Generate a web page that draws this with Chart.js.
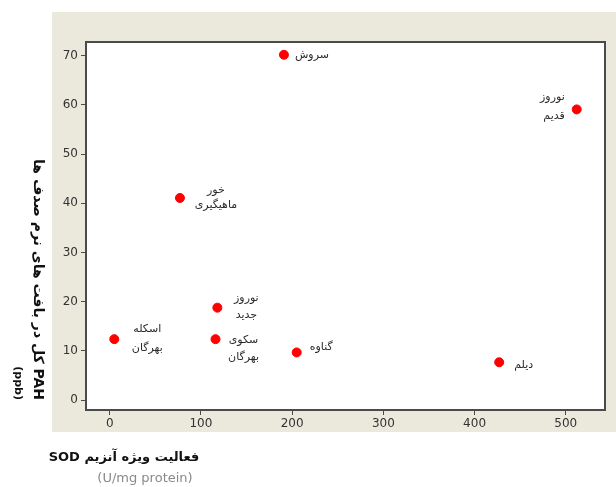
<!DOCTYPE html>
<html>
<head>
<meta charset="utf-8">
<script src="https://cdn.jsdelivr.net/npm/chart.js@4"></script>
<style>
  html, body { margin: 0; padding: 0; background: #ffffff; }
  #wrap { width: 616px; height: 487px; }
</style>
</head>
<body>
<div id="wrap"><canvas id="sodChart" width="616" height="487"></canvas></div>
<script>
// Data
const siteNames = ['سروش', 'نوروز\nقدیم', 'خور\nماهیگیری', 'نوروز\nجدید', 'اسکله\nبهرگان', 'سکوی\nبهرگان', 'گناوه', 'دیلم'];
const sodValues = [191, 512, 77, 118, 5, 116, 205, 427];
const pahValues = [70.2, 59.1, 41.1, 18.8, 12.4, 12.4, 9.7, 7.7];
const xTickValues = [0, 100, 200, 300, 400, 500];
const yTickValues = [0, 10, 20, 30, 40, 50, 60, 70];

const xTitle = 'فعالیت ویژه آنزیم SOD';
const xUnit = '(U/mg protein)';
const yTitle = 'PAH کل در بافت های نرم صدف ها';
const yUnit = '(ppb)';

// Where each site label sits relative to its point (px): dx, align, line offsets
const labelLayout = [
    { dx: 11, align: 'left', lines: [0] },
    { dx: -12, align: 'right', lines: [-12, 7] },
    { dx: 36, align: 'center', lines: [-8, 7] },
    { dx: 29, align: 'center', lines: [-10, 7] },
    { dx: 33, align: 'center', lines: [-10, 9] },
    { dx: 28, align: 'center', lines: [1, 18] },
    { dx: 13, align: 'left', lines: [-5] },
    { dx: 15, align: 'left', lines: [3] }
];

const scatterPoints = sodValues.map((x, i) => ({ x: x, y: pahValues[i] }));

// Beige panel, frame, site labels and the two axis titles
const decorPlugin = {
    id: 'decor',
    beforeDraw(chart) {
        const ctx = chart.ctx;
        ctx.save();
        ctx.fillStyle = '#ebe8dc';
        ctx.fillRect(52, 12, 564, 420);
        const a = chart.chartArea;
        ctx.fillStyle = '#ffffff';
        ctx.fillRect(a.left, a.top, a.right - a.left, a.bottom - a.top);
        ctx.restore();
    },
    afterDraw(chart) {
        const ctx = chart.ctx;
        const a = chart.chartArea;
        ctx.save();
        ctx.strokeStyle = '#4a4a4a';
        ctx.lineWidth = 2;
        ctx.strokeRect(a.left, a.top, a.right - a.left, a.bottom - a.top);

        // site labels
        const meta = chart.getDatasetMeta(0);
        ctx.fillStyle = '#2a2a2a';
        ctx.font = '11px "DejaVu Sans"';
        ctx.textBaseline = 'middle';
        ctx.direction = 'rtl';
        meta.data.forEach((pt, i) => {
            const lay = labelLayout[i];
            const parts = siteNames[i].split('\n');
            ctx.textAlign = lay.align;
            parts.forEach((txt, j) => {
                ctx.fillText(txt, pt.x + lay.dx, pt.y + lay.lines[j]);
            });
        });

        // x axis title
        ctx.textAlign = 'center';
        ctx.fillStyle = '#111111';
        ctx.font = 'bold 13px "DejaVu Sans"';
        ctx.fillText(xTitle, 124, 458);
        ctx.direction = 'ltr';
        ctx.fillStyle = '#8a8a8a';
        ctx.font = '13px "DejaVu Sans"';
        ctx.fillText(xUnit, 145, 479);

        // y axis title, turned clockwise
        ctx.translate(38, 400);
        ctx.rotate(Math.PI / 2);
        ctx.textAlign = 'right';
        ctx.direction = 'rtl';
        ctx.fillStyle = '#111111';
        ctx.font = 'bold 14px "DejaVu Sans"';
        ctx.fillText(yTitle, 0, 0);
        ctx.direction = 'ltr';
        ctx.font = 'bold 11px "DejaVu Sans"';
        ctx.fillText(yUnit, 0, 20);
        ctx.restore();
    }
};

const ctx = document.getElementById('sodChart').getContext('2d');
new Chart(ctx, {
    type: 'scatter',
    data: {
        datasets: [{
            data: scatterPoints,
            backgroundColor: '#ff0000',
            borderColor: '#ff0000',
            pointRadius: 4.5,
            pointHoverRadius: 4.5
        }]
    },
    options: {
        responsive: false,
        animation: false,
        layout: { padding: { left: 52, top: 42, right: 11, bottom: 55 } },
        plugins: {
            legend: { display: false },
            tooltip: { enabled: false }
        },
        scales: {
            x: {
                type: 'linear',
                min: -26,
                max: 543,
                afterBuildTicks: axis => { axis.ticks = xTickValues.map(v => ({ value: v })); },
                afterFit: axis => { axis.height = 22; },
                grid: { drawOnChartArea: false, drawTicks: true, tickLength: 5, color: '#4a4a4a' },
                border: { display: true, color: '#4a4a4a', width: 2 },
                ticks: { color: '#333333', font: { family: 'DejaVu Sans', size: 12 }, padding: 2, maxRotation: 0 }
            },
            y: {
                type: 'linear',
                min: -2,
                max: 72.8,
                afterBuildTicks: axis => { axis.ticks = yTickValues.map(v => ({ value: v })); },
                afterFit: axis => { axis.width = 34; },
                grid: { drawOnChartArea: false, drawTicks: true, tickLength: 5, color: '#4a4a4a' },
                border: { display: true, color: '#4a4a4a', width: 2 },
                ticks: { color: '#333333', font: { family: 'DejaVu Sans', size: 12 }, padding: 3 }
            }
        }
    },
    plugins: [decorPlugin]
});
</script>
</body>
</html>
